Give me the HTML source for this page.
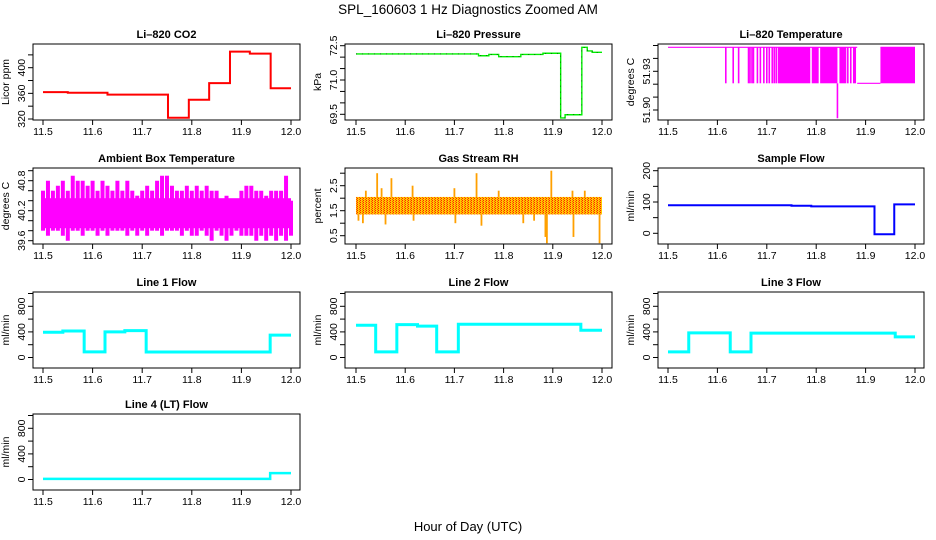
<!DOCTYPE html>
<html><head><meta charset="utf-8"><style>
html,body{margin:0;padding:0;background:#fff;}
svg{display:block;font-family:"Liberation Sans",Arial,sans-serif;}
.tt{font-size:11px;font-weight:bold;text-anchor:middle;}
.tk{font-size:10.5px;text-anchor:middle;}
</style></head><body>
<svg id="chart" width="936" height="540" viewBox="0 0 936 540">
<defs>
<pattern id="rhpat" width="3" height="2" patternUnits="userSpaceOnUse"><rect width="3" height="2" fill="#ffc800"/><rect width="1" height="1" fill="#ff2000"/><rect x="2" y="1" width="1" height="1" fill="#ff5000"/></pattern>
</defs>
<text x="468" y="14" font-size="13.5" text-anchor="middle">SPL_160603 1 Hz Diagnostics Zoomed AM</text>
<text x="468" y="531" font-size="13" text-anchor="middle">Hour of Day (UTC)</text>
</svg>
<script>
// ---- data ----
const xTicks=[11.5,11.6,11.7,11.8,11.9,12.0];
const xTickLabels=["11.5","11.6","11.7","11.8","11.9","12.0"];
const co2T=[11.5,11.55,11.63,11.752,11.794,11.835,11.877,11.917,11.959,12.0];
const co2V=[362,361,358,322,350,376,425,422,368];
const presT=[11.5,11.749,11.77,11.79,11.835,11.88,11.916,11.925,11.959,11.97,11.98,12.0];
const presV=[72.14,72.06,72.12,72.02,72.12,72.17,69.34,69.48,72.43,72.27,72.21];
const tempHigh=51.9486, tempLow=51.9207, tempDipV=51.8936, tempDipT=11.843;
const tempSpikes=[11.617,11.632,11.643,11.663,11.666,11.670,11.673,11.681,11.687,11.694,11.70,11.705,11.711,11.715,11.719,11.864,11.870,11.876,11.879];
const tempBandStart=[11.722,11.791,11.808,11.847,11.93];
const tempBandEnd=[11.788,11.805,11.843,11.861,12.0];
const tempLowStart=11.883, tempLowEnd=11.93;
const ambT=[11.5,11.51,11.52,11.53,11.54,11.55,11.56,11.57,11.58,11.59,11.6,11.61,11.62,11.63,11.64,11.65,11.66,11.67,11.68,11.69,11.7,11.71,11.72,11.73,11.74,11.75,11.76,11.77,11.78,11.79,11.8,11.81,11.82,11.83,11.84,11.85,11.86,11.87,11.88,11.89,11.9,11.91,11.92,11.93,11.94,11.95,11.96,11.97,11.98,11.99,12.0];
const ambHi=[40.6,40.8,40.6,40.7,40.8,40.6,40.9,40.8,40.8,40.7,40.8,40.6,40.8,40.7,40.6,40.8,40.6,40.8,40.6,40.5,40.6,40.7,40.6,40.8,40.9,40.9,40.7,40.6,40.6,40.7,40.6,40.7,40.6,40.7,40.6,40.6,40.4,40.5,40.4,40.4,40.6,40.7,40.7,40.6,40.6,40.5,40.6,40.6,40.6,40.9,40.4];
const ambLo=[39.8,39.7,39.8,39.8,39.7,39.6,39.8,39.8,39.7,39.8,39.8,39.7,39.8,39.7,39.8,39.8,39.8,39.7,39.8,39.7,39.8,39.7,39.8,39.8,39.7,39.8,39.8,39.8,39.7,39.8,39.7,39.7,39.8,39.7,39.6,39.8,39.7,39.6,39.7,39.8,39.7,39.7,39.7,39.6,39.7,39.6,39.7,39.6,39.7,39.6,39.7];
const rhBandLo=1.35, rhBandHi=2.05;
const rhSpikeT=[11.505,11.514,11.52,11.543,11.552,11.56,11.572,11.615,11.617,11.70,11.702,11.745,11.755,11.79,11.84,11.862,11.885,11.888,11.897,11.94,11.942,11.965,11.995];
const rhSpikeV=[1.1,1.0,2.3,3.0,2.4,0.95,2.8,2.5,1.1,2.4,1.0,3.0,0.9,2.3,1.0,1.1,0.45,0.2,3.1,2.3,0.45,2.3,0.2];
const sampT=[11.5,11.75,11.79,11.918,11.958,12.0];
const sampV=[89.5,88,86,-3,92.6];
const l1T=[11.5,11.54,11.583,11.625,11.665,11.708,11.958,12.0];
const l1V=[395,415,88,400,420,85,350];
const l2T=[11.5,11.54,11.583,11.625,11.664,11.708,11.957,12.0];
const l2V=[504,88,514,490,88,520,426];
const l3T=[11.5,11.542,11.626,11.668,11.96,12.0];
const l3V=[88,384,88,380,322];
const l4T=[11.5,11.958,12.0];
const l4V=[10,100];

// ---- layout ----
const svg=document.getElementById('chart');
const NS='http://www.w3.org/2000/svg';
const colBox=[[33,300],[345,612],[658,924]];
const colTick=[[43,291],[356,602],[668,915]];
const rowTop=[44,168,292,414];
const BH=76;
function mk(tag,attrs,parent){const e=document.createElementNS(NS,tag);for(const k in attrs)e.setAttribute(k,attrs[k]);(parent||svg).appendChild(e);return e;}

function panel(name,title,col,row,ylab,yref,yTicks,yLabels,dec){
  const g=mk('g',{});
  
  
  const bx0=colBox[col][0],bx1=colBox[col][1],top=rowTop[row],bot=top+BH;
  const xs=t=>colTick[col][0]+(t-11.5)/0.5*(colTick[col][1]-colTick[col][0]);
  const ys=v=>top+yref[1]+(v-yref[0])/(yref[2]-yref[0])*(yref[3]-yref[1]);
  const tt=mk('text',{x:(bx0+bx1)/2,y:top-6,class:'tt'},g);tt.textContent=title;
  
  
  const yl=mk('text',{x:0,y:0,'font-size':'10.5','text-anchor':'middle',transform:`translate(${bx0-24},${top+BH/2}) rotate(-90)`},g);yl.textContent=ylab;
  
  
  xTicks.forEach((t,i)=>{
    mk('line',{x1:xs(t),x2:xs(t),y1:bot,y2:bot+5,stroke:'#000'},g);
    const l=mk('text',{x:xs(t),y:bot+15,class:'tk'},g);l.textContent=xTickLabels[i];
    
    
  });
  yTicks.forEach(v=>{mk('line',{x1:bx0-5,x2:bx0,y1:ys(v),y2:ys(v),stroke:'#000'},g);});
  yLabels.forEach(v=>{
    const l=mk('text',{x:0,y:0,class:'tk',transform:`translate(${bx0-8},${ys(v)}) rotate(-90)`},g);
    l.textContent=v.toFixed(dec);
    
    
  });
  const plot=mk('g',{},g);
  
  
  const box=mk('rect',{x:bx0,y:top,width:bx1-bx0,height:BH,fill:'none',stroke:'#000'},g);
  
  
  return {xs,ys,plot};
}
function stepPath(T,V,xs,ys){
  let d=`M${xs(T[0])},${ys(V[0])}`;
  for(let i=0;i<V.length;i++){d+=` L${xs(T[i+1])},${ys(V[i])}`;if(i+1<V.length)d+=` L${xs(T[i+1])},${ys(V[i+1])}`;}
  return d;
}
function stepSeries(p,name,T,V,color,w){
  const e=mk('path',{d:stepPath(T,V,p.xs,p.ys),fill:'none',stroke:color,'stroke-width':w},p.plot);
  
  
  return e;
}

// CO2
let p=panel('co2','Li\u2013820 CO2',0,0,'Licor ppm',[320,75,400,23.7],[320,340,360,380,400,420],[320,360,400],0);
stepSeries(p,'co2-line',co2T,co2V,'#ff0000',2);
// Pressure
p=panel('pressure','Li\u2013820 Pressure',1,0,'kPa',[69.5,70.3,72.5,1.7],[69.5,70,70.5,71,71.5,72,72.5],[69.5,71.0,72.5],1);
stepSeries(p,'pressure-line',presT,presV,'#00ee00',1.4);
const pd=stepSeries(p,'pressure-dotted-overlay',presT,presV,'#000',0.5);pd.setAttribute('stroke-dasharray','1,5');
// Li-820 temperature
p=panel('li820-temp','Li\u2013820 Temperature',2,0,'degrees C',[51.90,66,51.95,1.5],[51.90,51.91,51.92,51.93,51.94,51.95],[51.90,51.93],2);
{
  const m=mk('path',{d:`M${p.xs(11.5)},${p.ys(tempHigh)} L${p.xs(tempLowStart)},${p.ys(tempHigh)} M${p.xs(tempLowStart)},${p.ys(tempLow)} L${p.xs(tempLowEnd)},${p.ys(tempLow)} M${p.xs(tempLowEnd)},${p.ys(tempHigh)} L${p.xs(12)},${p.ys(tempHigh)}`,stroke:'#ff00ff','stroke-width':1.2,fill:'none'},p.plot);
  
  
  tempSpikes.forEach(t=>{
    const s=mk('line',{x1:p.xs(t),x2:p.xs(t),y1:p.ys(tempHigh),y2:p.ys(tempLow),stroke:'#ff00ff','stroke-width':1.6},p.plot);
    
    
  });
  tempBandStart.forEach((t,i)=>{
    const r=mk('rect',{x:p.xs(t),y:p.ys(tempHigh),width:p.xs(tempBandEnd[i])-p.xs(t),height:p.ys(tempLow)-p.ys(tempHigh),fill:'#ff00ff'},p.plot);
    
    
  });
  const d=mk('line',{x1:p.xs(tempDipT),x2:p.xs(tempDipT),y1:p.ys(tempLow),y2:p.ys(tempDipV),stroke:'#ff00ff','stroke-width':1.6},p.plot);
  
  
}
// Ambient
p=panel('ambient-temp','Ambient Box Temperature',0,1,'degrees C',[39.6,72.7,41.0,2.7],[39.6,39.8,40.0,40.2,40.4,40.6,40.8,41.0],[39.6,40.2,40.8],1);
{
  const b=mk('rect',{x:p.xs(11.5),y:p.ys(40.45),width:p.xs(12)-p.xs(11.5),height:p.ys(39.85)-p.ys(40.45),fill:'#ff00ff'},p.plot);
  
  
  ambT.forEach((t,i)=>{
    const l=mk('line',{x1:p.xs(t),x2:p.xs(t),y1:p.ys(ambHi[i]),y2:p.ys(ambLo[i]),stroke:'#ff00ff','stroke-width':4},p.plot);
    
    
  });
}
// RH
p=panel('rh','Gas Stream RH',1,1,'percent',[0.5,67.7,3.0,5.2],[0.5,1.0,1.5,2.0,2.5,3.0],[0.5,1.5,2.5],1);
{
  const b=mk('rect',{x:p.xs(11.5),y:p.ys(rhBandHi),width:p.xs(12)-p.xs(11.5),height:p.ys(rhBandLo)-p.ys(rhBandHi),fill:'url(#rhpat)'},p.plot);
  
  
  rhSpikeT.forEach((t,i)=>{
    const v=rhSpikeV[i];const base=v>1.7?rhBandHi:rhBandLo;
    const l=mk('line',{x1:p.xs(t),x2:p.xs(t),y1:p.ys(base),y2:p.ys(v),stroke:'#ffa000','stroke-width':1.8},p.plot);
    
    
  });
}
// Sample flow
p=panel('sample-flow','Sample Flow',2,1,'ml/min',[0,65.3,200,2.7],[0,50,100,150,200],[0,100,200],0);
stepSeries(p,'sample-flow-line',sampT,sampV,'#0000ff',2);
// Line flows
const fref=[0,65.5,1000,1.5],fticks=[0,200,400,600,800,1000],flabels=[0,400,800];
p=panel('line1-flow','Line 1 Flow',0,2,'ml/min',fref,fticks,flabels,0);
stepSeries(p,'line1-flow-line',l1T,l1V,'#00ffff',3);
p=panel('line2-flow','Line 2 Flow',1,2,'ml/min',fref,fticks,flabels,0);
stepSeries(p,'line2-flow-line',l2T,l2V,'#00ffff',3);
p=panel('line3-flow','Line 3 Flow',2,2,'ml/min',fref,fticks,flabels,0);
stepSeries(p,'line3-flow-line',l3T,l3V,'#00ffff',3);
p=panel('line4-flow','Line 4 (LT) Flow',0,3,'ml/min',fref,fticks,flabels,0);
stepSeries(p,'line4-flow-line',l4T,l4V,'#00ffff',2.5);
</script>
</body></html>
